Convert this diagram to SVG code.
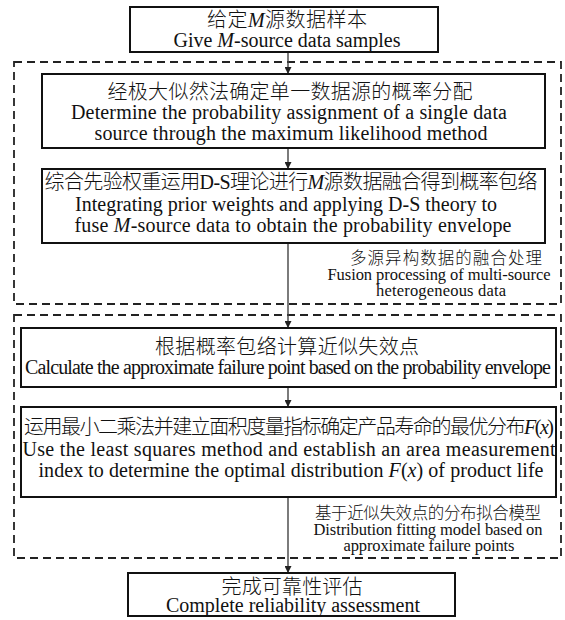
<svg xmlns="http://www.w3.org/2000/svg" width="565" height="620" viewBox="0 0 565 620">
<defs>
<style>
.box{fill:#fff;stroke:#111;stroke-width:2}
.grp{fill:none;stroke:#222;stroke-width:1.8;stroke-dasharray:8 5}
.t{font-family:"Liberation Serif","Noto Sans CJK SC",serif;font-size:20px;fill:#111;text-anchor:middle}
.cn{font-family:"Liberation Serif","Noto Sans CJK SC",serif;font-size:20px;font-weight:300;fill:#111;text-anchor:middle}
.lab{font-family:"Liberation Serif","Noto Sans CJK SC",serif;font-size:16.5px;fill:#111;text-anchor:middle}
.labcn{font-family:"Liberation Serif","Noto Sans CJK SC",serif;font-size:16.5px;font-weight:300;fill:#111;text-anchor:middle}
.i{font-style:italic}
.ln{stroke:#444;stroke-width:1.4;fill:none;marker-end:url(#ah)}
</style>
<marker id="ah" viewBox="0 0 10 10" refX="10" refY="5" markerWidth="7" markerHeight="7" markerUnits="userSpaceOnUse" orient="auto">
<path d="M0,0 L10,5 L0,10 z" fill="#222"/>
</marker>
</defs>

<g id="groups">
<rect id="fusion-group" class="grp" x="14" y="62" width="547" height="242"/>
<rect id="fitting-group" class="grp" x="14" y="315" width="547" height="243"/>
</g>

<g id="connectors">
<line class="ln" x1="288" y1="52" x2="288" y2="74"/>
<line class="ln" x1="288" y1="148" x2="288" y2="169"/>
<line class="ln" x1="288" y1="243" x2="288" y2="328"/>
<line class="ln" x1="288" y1="387" x2="288" y2="407"/>
<line class="ln" x1="288" y1="497" x2="288" y2="573"/>
</g>

<g id="n1">
<rect class="box" x="130" y="7" width="308" height="45"/>
<text class="cn" x="287" y="27" textLength="160">给定<tspan class="i" font-weight="400">M</tspan>源数据样本</text>
<text class="t" x="287" y="47" textLength="227">Give <tspan class="i">M</tspan>-source data samples</text>
</g>

<g id="n2">
<rect class="box" x="42" y="74" width="503" height="74"/>
<text class="cn" x="290" y="99" textLength="365">经极大似然法确定单一数据源的概率分配</text>
<text class="t" x="289" y="119" textLength="436">Determine the probability assignment of a single data</text>
<text class="t" x="291" y="140" textLength="393">source through the maximum likelihood method</text>
</g>

<g id="n3">
<rect class="box" x="42" y="169" width="503" height="74"/>
<text class="cn" x="291" y="189" textLength="493">综合先验权重运用D-S理论进行<tspan class="i" font-weight="400">M</tspan>源数据融合得到概率包络</text>
<text class="t" x="286" y="211" textLength="422">Integrating prior weights and applying D-S theory to</text>
<text class="t" x="293" y="232" textLength="437">fuse <tspan class="i">M</tspan>-source data to obtain the probability envelope</text>
</g>

<g id="label1">
<text class="labcn" x="446" y="264" textLength="192">多源异构数据的融合处理</text>
<text class="lab" x="439" y="280" textLength="223">Fusion processing of multi-source</text>
<text class="lab" x="441" y="296" textLength="130">heterogeneous data</text>
</g>

<g id="n4">
<rect class="box" x="21" y="328" width="535" height="59"/>
<text class="cn" x="287" y="354" textLength="264">根据概率包络计算近似失效点</text>
<text class="t" x="288" y="374" textLength="526" lengthAdjust="spacing">Calculate the approximate failure point based on the probability envelope</text>
</g>

<g id="n5">
<rect class="box" x="21" y="407" width="535" height="90"/>
<text class="cn" x="289" y="434" textLength="530">运用最小二乘法并建立面积度量指标确定产品寿命的最优分布<tspan class="i" font-weight="400">F</tspan><tspan font-weight="400">(</tspan><tspan class="i" font-weight="400">x</tspan><tspan font-weight="400">)</tspan></text>
<text class="t" x="289" y="456" textLength="533">Use the least squares method and establish an area measurement</text>
<text class="t" x="291" y="477" textLength="505">index to determine the optimal distribution <tspan class="i">F</tspan>(<tspan class="i">x</tspan>) of product life</text>
</g>

<g id="label2">
<text class="labcn" x="428" y="519" textLength="226">基于近似失效点的分布拟合模型</text>
<text class="lab" x="428" y="535" textLength="229">Distribution fitting model based on</text>
<text class="lab" x="429" y="551" textLength="171">approximate failure points</text>
</g>

<g id="n6">
<rect class="box" x="128" y="573" width="327" height="43"/>
<text class="cn" x="292" y="594" textLength="141">完成可靠性评估</text>
<text class="t" x="293" y="612" textLength="254">Complete reliability assessment</text>
</g>
</svg>
